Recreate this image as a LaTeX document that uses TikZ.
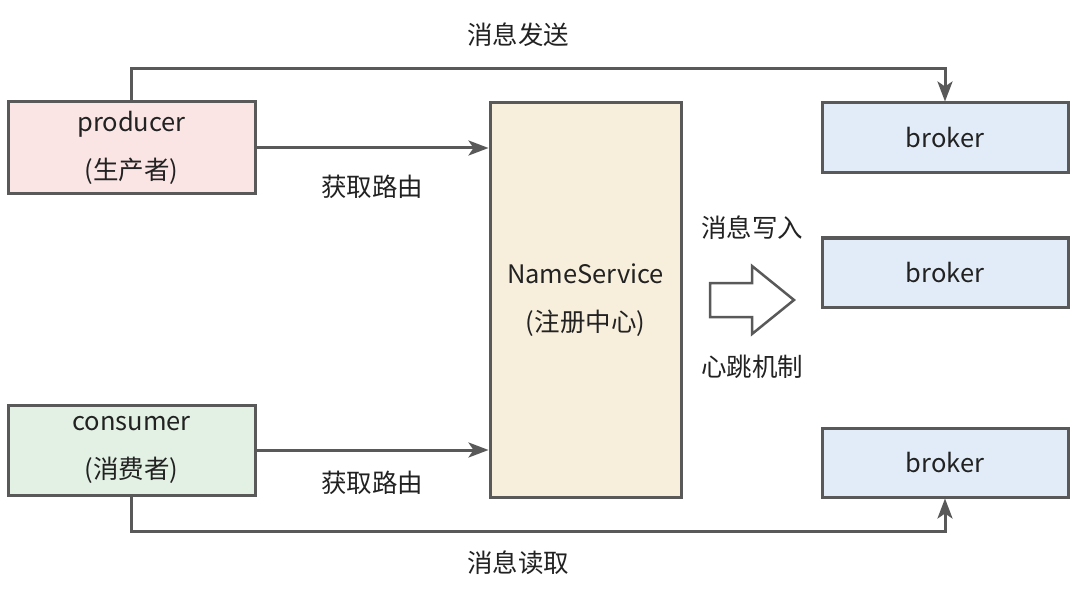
\documentclass[tikz,border=0pt]{standalone}
\usepackage{fontspec}
\setmainfont{Noto Sans CJK SC}
\usetikzlibrary{arrows.meta}
\definecolor{ln}{HTML}{595959}
\definecolor{tx}{HTML}{222222}
\definecolor{pfill}{HTML}{FBE4E4}
\definecolor{cfill}{HTML}{E2F1E3}
\definecolor{nfill}{HTML}{F7EEDC}
\definecolor{bfill}{HTML}{E1ECF8}
\tikzset{
  box/.style={draw=ln, line width=3pt, rectangle, inner sep=0pt, align=center, text=tx,
    font=\fontsize{25.5}{46}\selectfont},
  lbl/.style={text=tx, inner sep=0pt, font=\fontsize{25.5}{28}\selectfont},
  arr/.style={draw=ln, line width=3pt, -{Stealth[length=20pt,width=15pt,inset=5pt]}},
  conn/.style={draw=ln, line width=3pt}
}
\begin{document}
\begin{tikzpicture}[x=1pt,y=-1pt]
\useasboundingbox[fill=white] (0,0) rectangle (1080,599);
\node[box, fill=pfill, minimum width=247pt, minimum height=92pt] (producer) at (131.5,148) {producer\\\raisebox{-2pt}{(生产者)}};
\node[box, fill=cfill, minimum width=247pt, minimum height=90pt] (consumer) at (131.5,450) {consumer\\\raisebox{-2pt}{(消费者)}};
\node[box, fill=nfill, minimum width=191pt, minimum height=394pt, font=\fontsize{25.5}{48}\selectfont] (ns) at (585.5,300) {NameService\\(注册中心)};
\node[box, fill=bfill, minimum width=246pt, minimum height=70pt] (b1) at (945,138) {broker};
\node[box, fill=bfill, minimum width=246pt, minimum height=69pt] (b2) at (945,272.5) {broker};
\node[box, fill=bfill, minimum width=246pt, minimum height=69pt] (b3) at (945,462.5) {broker};

\draw[arr] (producer.east) -- (ns.west |- producer.east);
\draw[arr] (consumer.east) -- (ns.west |- consumer.east);
\draw[arr] (producer.north) -- ++(0,-32) -| (b1.north);
\draw[arr] (consumer.south) -- ++(0,35) -| (b3.south);

\node[lbl] (l1) at (372,187) {获取路由};
\node[lbl] (l2) at (372,483) {获取路由};
\node[lbl] (l3) at (518,35) {消息发送};
\node[lbl] (l4) at (518,563) {消息读取};
\node[lbl] (l5) at (752,228) {消息写入};
\node[lbl] (l6) at (752,367) {心跳机制};

\draw[draw=ln, line width=2.5pt, fill=white, line join=miter]
  (710,283) -- (752,283) -- (752,266) -- (794,300) -- (752,334) -- (752,317) -- (710,317) -- cycle;
\end{tikzpicture}
\end{document}
